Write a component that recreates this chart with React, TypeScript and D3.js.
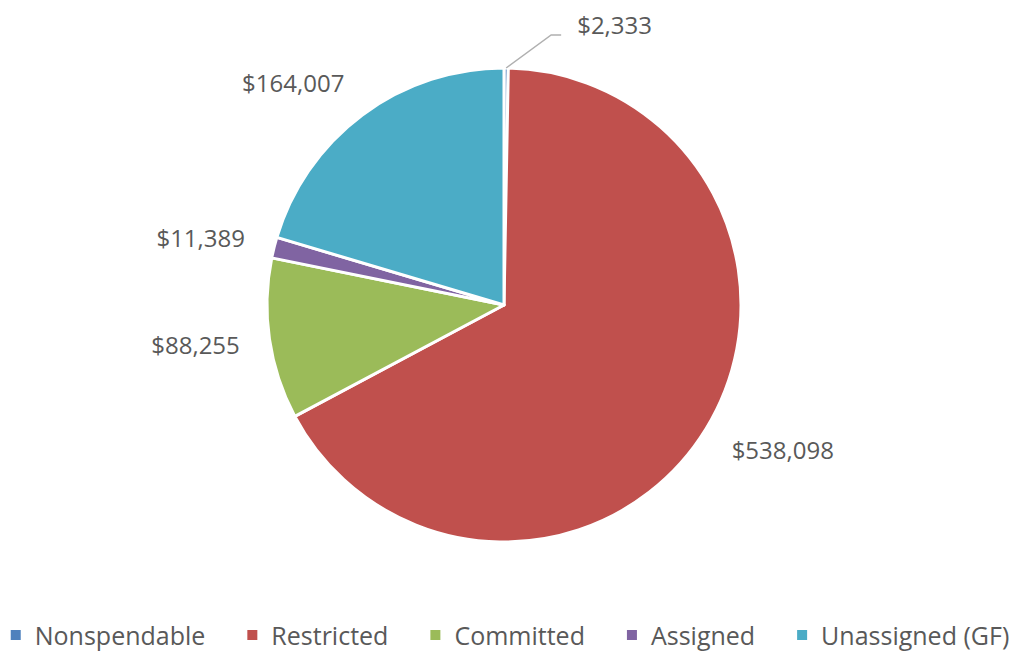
import React, { useEffect, useRef } from "react";
import * as d3 from "d3";

const categories = ["Nonspendable", "Restricted", "Committed", "Assigned", "Unassigned (GF)"];
const values = [2333, 538098, 88255, 11389, 164007];
const labels = ["$2,333", "$538,098", "$88,255", "$11,389", "$164,007"];
const colors = ["#4F81BD", "#C0504D", "#9BBB59", "#8064A2", "#4BACC6"];

const W = 1012;
const H = 652;
const CX = 504;
const CY = 305;
const R = 237;
const FONT = "'Open Sans', sans-serif";
const TEXT_COLOR = "#595959";

export default function App() {
  const ref = useRef<SVGSVGElement | null>(null);

  useEffect(() => {
    const svg = d3.select(ref.current);
    svg.selectAll("*").remove();

    const data = categories.map((c, i) => ({ c, v: values[i], label: labels[i], color: colors[i] }));
    const pie = d3.pie<any>().value((d) => d.v).sort(null);
    const arcs = pie(data);
    const arc = d3.arc<any>().innerRadius(0).outerRadius(R);

    const g = svg.append("g").attr("transform", `translate(${CX},${CY})`);
    g.selectAll("path")
      .data(arcs)
      .enter()
      .append("path")
      .attr("d", arc as any)
      .attr("fill", (d: any) => d.data.color)
      .attr("stroke", "#fff")
      .attr("stroke-width", 3)
      .attr("stroke-linejoin", "round");

    // labels
    arcs.forEach((a: any) => {
      const mid = (a.startAngle + a.endAngle) / 2;
      const dx = Math.sin(mid);
      const dy = -Math.cos(mid);
      if (a.endAngle - a.startAngle < 0.05) {
        const ex = dx * R;
        const ey = dy * R;
        const elbowX = ex + 45;
        const elbowY = -R - 33;
        const endX = elbowX + 10;
        g.append("polyline")
          .attr("points", `${ex},${ey} ${elbowX},${elbowY} ${endX},${elbowY}`)
          .attr("fill", "none")
          .attr("stroke", "#b0b0b0")
          .attr("stroke-width", 1.5);
        g.append("text")
          .attr("x", endX + 16)
          .attr("y", elbowY - 11)
          .attr("dominant-baseline", "central")
          .attr("font-family", FONT)
          .attr("font-size", 24)
          .attr("fill", TEXT_COLOR)
          .text(a.data.label);
        return;
      }
      const k = R + 30;
      const px = dx * k;
      const py = dy * k;
      const t = g
        .append("text")
        .attr("font-family", FONT)
        .attr("font-size", 24)
        .attr("fill", TEXT_COLOR)
        .attr("dominant-baseline", "central")
        .text(a.data.label);
      const w = (t.node() as SVGTextElement).getComputedTextLength();
      const h = 20;
      const cx = px + (Math.sign(dx) * w) / 2;
      const cy = py + (dy * h) / 2;
      t.attr("x", cx).attr("y", cy).attr("text-anchor", "middle");
    });

    // legend
    const lg = svg.append("g");
    const items: { w: number; node: any }[] = [];
    const marker = 10;
    const gapMarkerText = 14;
    const gapItems = 42;
    data.forEach((d) => {
      const ig = lg.append("g");
      ig.append("rect")
        .attr("width", marker)
        .attr("height", marker)
        .attr("y", -marker / 2)
        .attr("fill", d.color);
      const t = ig
        .append("text")
        .attr("x", marker + gapMarkerText)
        .attr("dominant-baseline", "central")
        .attr("font-family", FONT)
        .attr("font-size", 25)
        .attr("fill", TEXT_COLOR)
        .text(d.c);
      const tw = (t.node() as SVGTextElement).getComputedTextLength();
      items.push({ w: marker + gapMarkerText + tw, node: ig });
    });
    const total = d3.sum(items, (d) => d.w) + gapItems * (items.length - 1);
    let x = (W - total) / 2 + 4;
    items.forEach((it) => {
      it.node.attr("transform", `translate(${x},635)`);
      x += it.w + gapItems;
    });
  }, []);

  return (
    <svg
      ref={ref}
      width={W}
      height={H}
      style={{ position: "absolute", left: 0, top: 0, background: "#fff" }}
    />
  );
}
